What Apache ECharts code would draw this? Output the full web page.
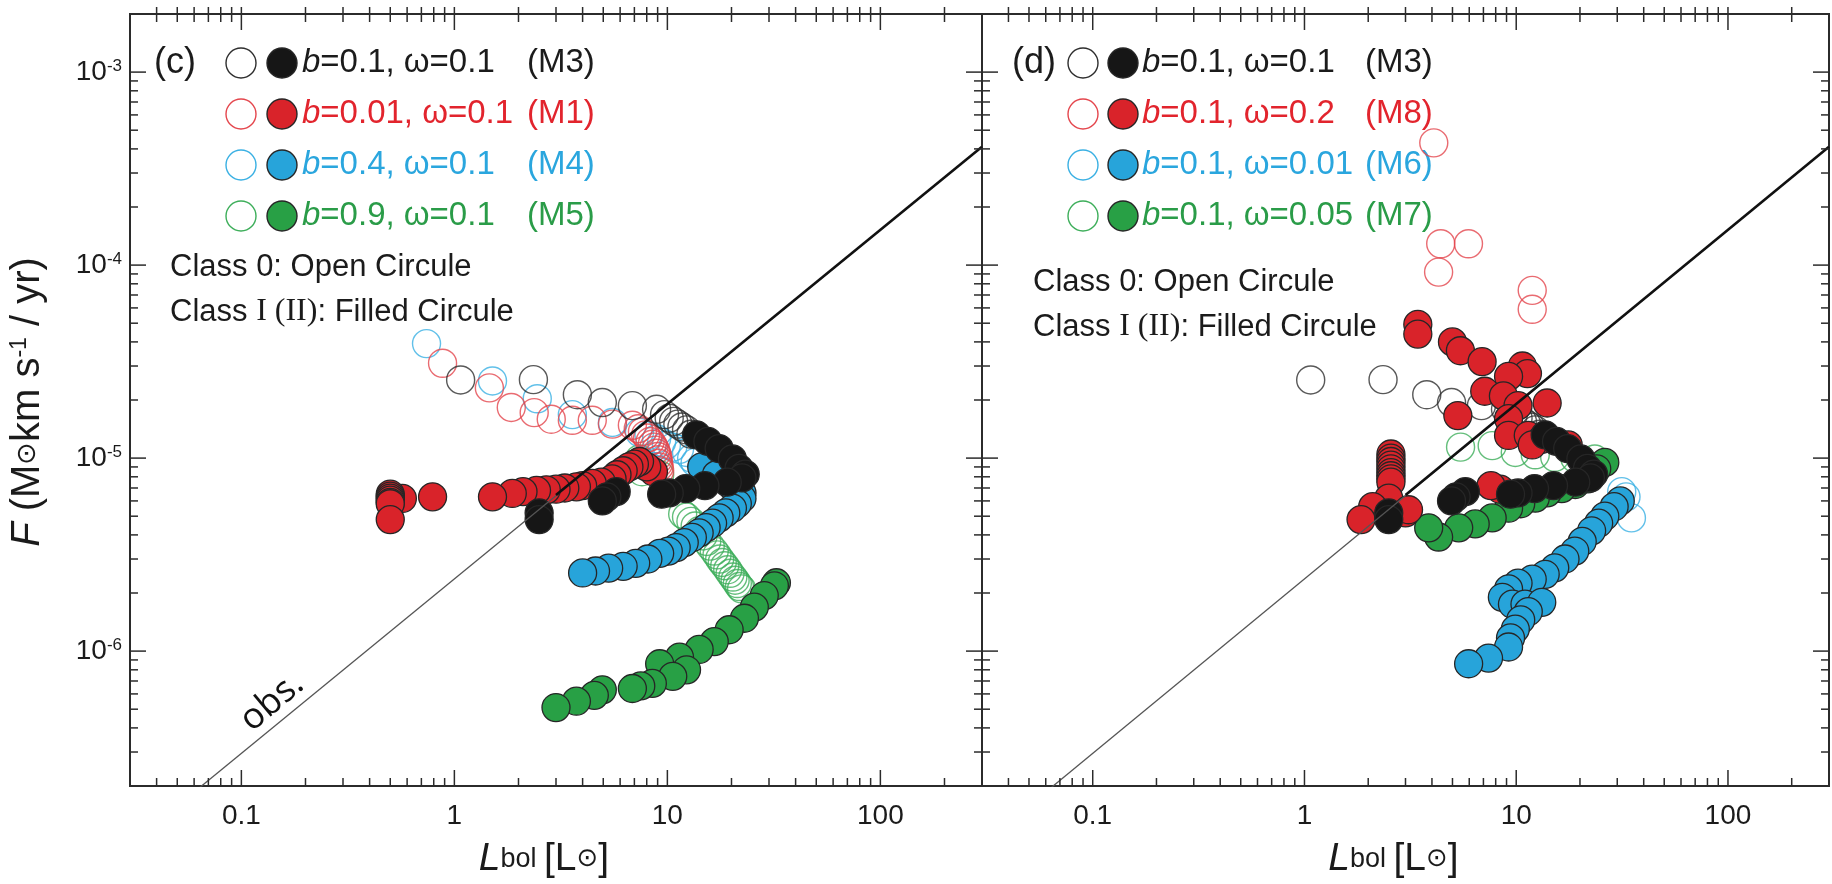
<!DOCTYPE html>
<html>
<head>
<meta charset="utf-8">
<script src="https://cdn.jsdelivr.net/npm/echarts@6/dist/echarts.min.js"></script>
<style>
html, body { margin: 0; padding: 0; background: #fff; }
#chart { width: 1832px; height: 884px; }
</style>
</head>
<body>
<div id="chart"></div>
<script>
// ---------- tick values (log axes) ----------
const majorL = [0.1, 1, 10, 100];
const minorL = [0.04, 0.05, 0.06, 0.07, 0.08, 0.09, 0.2, 0.3, 0.4, 0.5, 0.6, 0.7, 0.8, 0.9,
                2, 3, 4, 5, 6, 7, 8, 9, 20, 30, 40, 50, 60, 70, 80, 90, 200];
const majorF = [1e-6, 1e-5, 1e-4, 1e-3];
const minorF = [3e-7, 4e-7, 5e-7, 6e-7, 7e-7, 8e-7, 9e-7,
                2e-6, 3e-6, 4e-6, 5e-6, 6e-6, 7e-6, 8e-6, 9e-6,
                2e-5, 3e-5, 4e-5, 5e-5, 6e-5, 7e-5, 8e-5, 9e-5,
                2e-4, 3e-4, 4e-4, 5e-4, 6e-4, 7e-4, 8e-4, 9e-4];

// ---------- observed relation (two end points) ----------
const obsL = [0.06, 300];
const obsF = [1.86e-7, 4.1e-4];
const obsBoldL = [3, 300];
const obsBoldF = [6.44e-6, 4.1e-4];

// ---------- M3: b=0.1, w=0.1 (both panels) ----------
const m3OpenL = [1.07, 2.35, 3.78, 4.95, 6.85, 8.9, 9.7, 10.2, 10.7, 11.2, 11.7, 12.3, 12.9];
const m3OpenF = [2.54e-5, 2.55e-5, 2.13e-5, 1.94e-5, 1.87e-5, 1.79e-5, 1.68e-5, 1.61e-5, 1.55e-5, 1.50e-5, 1.45e-5, 1.40e-5, 1.33e-5];
const m3FillL = [13.7, 15.5, 17.5, 20.2, 21.7, 23.2, 22.4, 19.1, 15.0, 12.2, 10.2, 9.4, 5.75, 5.2, 4.95, 2.5, 2.5];
const m3FillF = [1.32e-5, 1.22e-5, 1.12e-5, 9.9e-6, 8.85e-6, 8.25e-6, 7.9e-6, 7.5e-6, 7.2e-6, 6.95e-6, 6.6e-6, 6.5e-6, 6.7e-6, 6.3e-6, 6.0e-6, 5.2e-6, 4.8e-6];

// ---------- panel (c) ----------
const m1OpenL = [0.88, 1.46, 1.85, 2.37, 2.85, 3.58, 4.44, 5.52, 6.85, 7.3, 7.64, 7.9, 8.07, 8.3, 8.5, 8.65, 8.8, 8.9, 9.0, 9.05, 9.1, 9.15, 9.2];
const m1OpenF = [3.1e-5, 2.31e-5, 1.83e-5, 1.72e-5, 1.59e-5, 1.57e-5, 1.57e-5, 1.5e-5, 1.48e-5, 1.42e-5, 1.37e-5, 1.32e-5, 1.27e-5, 1.22e-5, 1.18e-5, 1.14e-5, 1.1e-5, 1.06e-5, 1.02e-5, 9.8e-6, 9.4e-6, 9.0e-6, 8.6e-6];
const m1FillL = [8.6, 8.0, 7.4, 7.0, 6.6, 6.2, 5.8, 5.5, 4.9, 4.44, 4.0, 3.74, 3.3, 3.0, 2.7, 2.43, 2.1, 1.87, 1.51, 0.79, 0.57,
                 0.5, 0.5, 0.5, 0.5, 0.5, 0.5, 0.5];
const m1FillF = [8.5e-6, 9.0e-6, 9.6e-6, 9.3e-6, 9.0e-6, 8.6e-6, 8.2e-6, 7.8e-6, 7.5e-6, 7.4e-6, 7.2e-6, 7.1e-6, 7.0e-6, 6.9e-6, 6.85e-6, 6.8e-6, 6.7e-6, 6.56e-6, 6.3e-6, 6.3e-6, 6.18e-6,
                 6.5e-6, 6.35e-6, 6.2e-6, 6.05e-6, 5.9e-6, 5.8e-6, 4.8e-6];

const m4OpenL = [0.74, 1.51, 2.45, 3.58, 5.52, 7.4, 8.2, 8.9, 9.4, 9.9, 10.6, 11.4, 12.3, 13.0, 13.5];
const m4OpenF = [3.92e-5, 2.51e-5, 2.03e-5, 1.68e-5, 1.53e-5, 1.36e-5, 1.31e-5, 1.26e-5, 1.21e-5, 1.17e-5, 1.14e-5, 1.11e-5, 1.07e-5, 1.0e-5, 9.5e-6];
const m4FillL = [14.5, 17.0, 20.0, 22.4, 22.4, 21.3, 20.2, 18.8, 17.5, 16.3, 15.2, 14.1, 13.1, 12.0, 11.0, 10.1, 9.2, 8.1, 7.1, 6.2, 5.3, 4.6, 4.0];
const m4FillF = [9.0e-6, 8.2e-6, 7.2e-6, 6.6e-6, 6.18e-6, 5.8e-6, 5.5e-6, 5.2e-6, 4.9e-6, 4.6e-6, 4.36e-6, 4.1e-6, 3.88e-6, 3.65e-6, 3.44e-6, 3.3e-6, 3.21e-6, 3.0e-6, 2.85e-6, 2.75e-6, 2.69e-6, 2.6e-6, 2.54e-6];

const m5OpenL = [7.4, 7.6, 9.2, 11.8, 12.3, 12.9, 13.5, 14.1, 14.7, 15.3, 15.9, 16.6, 17.1, 17.6, 18.1, 18.6, 19.2, 19.7, 20.3, 20.8, 21.3, 21.8, 22.3];
const m5OpenF = [9.9e-6, 8.5e-6, 8.2e-6, 5.13e-6, 4.95e-6, 4.7e-6, 4.45e-6, 4.2e-6, 3.95e-6, 3.7e-6, 3.5e-6, 3.3e-6, 3.15e-6, 3.0e-6, 2.88e-6, 2.77e-6, 2.64e-6, 2.53e-6, 2.42e-6, 2.33e-6, 2.24e-6, 2.16e-6, 2.1e-6];
const m5FillL = [32.5, 31.8, 28.5, 25.6, 23.0, 19.5, 16.6, 14.1, 11.4, 9.2, 12.3, 10.6, 8.5, 7.5, 6.85, 4.95, 4.54, 3.74, 3.0];
const m5FillF = [2.26e-6, 2.18e-6, 1.94e-6, 1.69e-6, 1.48e-6, 1.29e-6, 1.12e-6, 1.02e-6, 9.3e-7, 8.6e-7, 8.0e-7, 7.4e-7, 6.8e-7, 6.6e-7, 6.4e-7, 6.3e-7, 5.9e-7, 5.5e-7, 5.1e-7];

// ---------- panel (d) ----------
const m8OpenL = [4.08, 4.4, 5.95, 4.3, 11.9, 11.9];
const m8OpenF = [4.3e-4, 1.29e-4, 1.29e-4, 9.2e-5, 7.4e-5, 5.9e-5];
const m8FillL = [3.43, 3.43, 5.0, 5.45, 6.9, 10.7, 11.3, 9.2, 7.1, 8.7, 14.0, 10.2, 5.3, 9.2, 9.2, 11.4, 13.2, 11.9, 17.6, 8.4, 7.6,
                 2.56, 2.56, 2.56, 2.56, 2.56, 2.56, 2.56, 2.56, 2.56, 2.5, 2.1, 3.0, 3.1, 1.85];
const m8FillF = [4.93e-5, 4.39e-5, 4.0e-5, 3.6e-5, 3.16e-5, 3.0e-5, 2.74e-5, 2.65e-5, 2.22e-5, 2.1e-5, 1.93e-5, 1.87e-5, 1.66e-5, 1.6e-5, 1.31e-5, 1.31e-5, 1.25e-5, 1.17e-5, 1.17e-5, 6.9e-6, 7.2e-6,
                 1.05e-5, 1.0e-5, 9.6e-6, 9.2e-6, 8.8e-6, 8.4e-6, 8.1e-6, 7.8e-6, 7.5e-6, 6.2e-6, 5.6e-6, 5.2e-6, 5.4e-6, 4.8e-6];

const m6OpenL = [35, 33, 31.5];
const m6OpenF = [4.9e-6, 6.3e-6, 6.7e-6];
const m6FillL = [31, 29, 26.2, 24.5, 22.7, 20.5, 18.9, 17, 15.2, 13.7, 11.9, 10.2, 9.2, 8.6, 9.6, 11.0, 13.2, 11.4, 10.5, 9.9, 9.4, 9.2, 7.4, 5.96];
const m6FillF = [6.0e-6, 5.6e-6, 5.0e-6, 4.6e-6, 4.2e-6, 3.7e-6, 3.3e-6, 3.0e-6, 2.7e-6, 2.5e-6, 2.36e-6, 2.25e-6, 2.1e-6, 1.9e-6, 1.75e-6, 1.75e-6, 1.79e-6, 1.6e-6, 1.45e-6, 1.3e-6, 1.17e-6, 1.05e-6, 9.2e-7, 8.6e-7];

const m7OpenL = [5.46, 7.7, 9.9, 12.3, 15.2, 18.9, 23.5];
const m7OpenF = [1.14e-5, 1.16e-5, 1.07e-5, 1.04e-5, 1.01e-5, 1.0e-5, 9.9e-6];
const m7FillL = [26.2, 24, 21.8, 19, 16.4, 14, 12.3, 10.5, 9.2, 7.7, 6.4, 5.35, 4.3, 3.86];
const m7FillF = [9.5e-6, 8.8e-6, 7.8e-6, 7.3e-6, 6.95e-6, 6.6e-6, 6.2e-6, 5.8e-6, 5.5e-6, 4.9e-6, 4.56e-6, 4.35e-6, 3.9e-6, 4.35e-6];

// ---------- legend text ----------
const legendC = [['b', '=0.1, ω=0.1', '(M3)'], ['b', '=0.01, ω=0.1', '(M1)'], ['b', '=0.4, ω=0.1', '(M4)'], ['b', '=0.9, ω=0.1', '(M5)']];
const legendD = [['b', '=0.1, ω=0.1', '(M3)'], ['b', '=0.1, ω=0.2', '(M8)'], ['b', '=0.1, ω=0.01', '(M6)'], ['b', '=0.1, ω=0.05', '(M7)']];

// ---------- styling ----------
const SANS = '"Liberation Sans", Arial, Helvetica, sans-serif';
const INK = '#1b1b1b';
const COL = {
  black: { fill: '#161616', open: '#2e2e2e', text: '#1b1b1b' },
  red:   { fill: '#d9232a', open: '#e4464d', text: '#e2242d' },
  blue:  { fill: '#27a4da', open: '#3ab0e3', text: '#2aa6de' },
  green: { fill: '#28a045', open: '#3dae5a', text: '#2a9c48' }
};
const ROWS = ['black', 'red', 'blue', 'green'];
const MARK = 28;

const pairs = (L, F) => L.map((v, i) => [v, F[i]]);
const isPow10 = v => Math.abs(Math.log10(v) - Math.round(Math.log10(v))) < 1e-6;

function openSeries(g, L, F, c) {
  return {
    type: 'scatter', xAxisIndex: g, yAxisIndex: g, data: pairs(L, F), symbol: 'circle', symbolSize: MARK,
    itemStyle: { color: 'rgba(255,255,255,0)', borderColor: COL[c].open, borderWidth: 1.4 },
    silent: true, z: 3
  };
}
function fillSeries(g, L, F, c) {
  return {
    type: 'scatter', xAxisIndex: g, yAxisIndex: g, data: pairs(L, F), symbol: 'circle', symbolSize: MARK,
    itemStyle: { color: COL[c].fill, borderColor: '#262626', borderWidth: 1.3, opacity: 1 },
    silent: true, z: 4
  };
}
function obsSeries(g) {
  return [
    { type: 'line', xAxisIndex: g, yAxisIndex: g, data: pairs(obsL, obsF), symbol: 'none',
      lineStyle: { color: '#555', width: 1.3 }, silent: true, z: 6, clip: true },
    { type: 'line', xAxisIndex: g, yAxisIndex: g, data: pairs(obsBoldL, obsBoldF), symbol: 'none',
      lineStyle: { color: '#111', width: 2.6 }, silent: true, z: 6, clip: true }
  ];
}

// tick marks on all four sides, placed through the axis scales
const tickData = [
  ...majorL.map(v => [v, 1e-5, 0, 1]),
  ...minorL.map(v => [v, 1e-5, 0, 0]),
  ...majorF.map(v => [1, v, 1, 1]),
  ...minorF.map(v => [1, v, 1, 0])
];
function tickSeries(g) {
  return {
    type: 'custom', xAxisIndex: g, yAxisIndex: g, data: tickData, silent: true, z: 8,
    encode: { x: 0, y: 1 },
    renderItem(params, api) {
      const cs = params.coordSys;
      const kind = api.value(2), major = api.value(3);
      const len = major ? 16 : 8;
      const style = { stroke: '#2b2b2b', lineWidth: 1.5 };
      if (kind === 0) {
        const px = api.coord([api.value(0), api.value(1)])[0];
        const top = cs.y, bot = cs.y + cs.height;
        return { type: 'group', children: [
          { type: 'line', shape: { x1: px, y1: bot, x2: px, y2: bot - len }, style },
          { type: 'line', shape: { x1: px, y1: top - 7, x2: px, y2: top + len }, style }
        ] };
      }
      const py = api.coord([api.value(0), api.value(1)])[1];
      const left = cs.x, right = cs.x + cs.width;
      return { type: 'group', children: [
        { type: 'line', shape: { x1: left, y1: py, x2: left + len, y2: py }, style },
        { type: 'line', shape: { x1: right - len, y1: py, x2: right, y2: py }, style }
      ] };
    }
  };
}

const xAxisTitle = {
  name: '{i|L}{sub|bol }{n|[L}{sun|⊙}{n|]}',
  nameLocation: 'middle', nameGap: 54,
  nameTextStyle: {
    padding: [0, 24, 0, 0],
    rich: {
      i: { fontSize: 39, fontStyle: 'italic', fontFamily: SANS, color: INK },
      sub: { fontSize: 27, fontFamily: SANS, color: INK },
      n: { fontSize: 39, fontFamily: SANS, color: INK },
      sun: { fontSize: 26, fontFamily: '"DejaVu Sans", sans-serif', color: INK }
    }
  }
};

function xAxis(g) {
  return Object.assign({
    gridIndex: g, type: 'log', logBase: 10, min: 0.03, max: 300,
    axisLine: { show: false }, axisTick: { show: false }, splitLine: { show: false }, minorTick: { show: false },
    axisLabel: {
      show: true, margin: 16, fontSize: 28, fontFamily: SANS, color: INK,
      formatter: v => isPow10(v) ? String(Number(Number(v).toPrecision(3))) : ''
    }
  }, xAxisTitle);
}
function yAxis(g) {
  const ax = {
    gridIndex: g, type: 'log', logBase: 10, min: 2e-7, max: 2e-3,
    axisLine: { show: false }, axisTick: { show: false }, splitLine: { show: false }, minorTick: { show: false },
    axisLabel: { show: false }
  };
  if (g === 0) {
    ax.axisLabel = {
      show: true, margin: 8, fontFamily: SANS, color: INK,
      formatter: v => isPow10(v) ? '{b|10}{e|' + Math.round(Math.log10(v)) + '}' : '',
      rich: {
        b: { fontSize: 28, fontFamily: SANS, color: INK },
        e: { fontSize: 17, fontFamily: SANS, color: INK, verticalAlign: 'top' }
      }
    };
    ax.name = '{i|F }{n|(M}{sun|⊙}{n|km s}{sup|-1}{n| / yr)}';
    ax.nameLocation = 'middle';
    ax.nameRotate = 90;
    ax.nameGap = 82;
    ax.nameTextStyle = {
      padding: [0, 4, 0, 0],
      rich: {
        i: { fontSize: 40, fontStyle: 'italic', fontFamily: SANS, color: INK },
        n: { fontSize: 40, fontFamily: SANS, color: INK },
        sun: { fontSize: 27, fontFamily: '"DejaVu Sans", sans-serif', color: INK },
        sup: { fontSize: 23, fontFamily: SANS, color: INK, verticalAlign: 'top' }
      }
    };
  }
  return ax;
}

// ---------- legend / annotation graphics ----------
function legendGraphics(tag, tagX, openX, fillX, textX, modelX, rows, noteX, noteY) {
  const els = [];
  const rowY = [63, 114, 165, 216];
  els.push({ type: 'text', x: tagX, y: rowY[0], style: {
    text: tag, fontSize: 36, fontFamily: SANS, fill: INK, textVerticalAlign: 'middle', verticalAlign: 'middle' } });
  rows.forEach((r, i) => {
    const c = COL[ROWS[i]];
    els.push({ type: 'circle', shape: { cx: openX, cy: rowY[i], r: 15 }, style: { fill: 'rgba(0,0,0,0)', stroke: c.open, lineWidth: 1.4 } });
    els.push({ type: 'circle', shape: { cx: fillX, cy: rowY[i], r: 15 }, style: { fill: c.fill, stroke: '#262626', lineWidth: 1.4 } });
    els.push({ type: 'text', x: textX, y: rowY[i], style: {
      text: '{i|' + r[0] + '}{n|' + r[1] + '}',
      rich: {
        i: { fontSize: 33, fontStyle: 'italic', fontFamily: SANS, fill: c.text },
        n: { fontSize: 33, fontFamily: SANS, fill: c.text }
      },
      textVerticalAlign: 'middle', verticalAlign: 'middle' } });
    els.push({ type: 'text', x: modelX, y: rowY[i], style: {
      text: r[2], fontSize: 33, fontFamily: SANS, fill: c.text, textVerticalAlign: 'middle', verticalAlign: 'middle' } });
  });
  els.push({ type: 'text', x: noteX, y: noteY, style: {
    text: 'Class 0: Open Circule', fontSize: 31, fontFamily: SANS, fill: INK, textVerticalAlign: 'middle', verticalAlign: 'middle' } });
  els.push({ type: 'text', x: noteX, y: noteY + 45, style: {
    text: '{n|Class }{s|I (II)}{n|: Filled Circule}',
    rich: {
      n: { fontSize: 31, fontFamily: SANS, fill: INK },
      s: { fontSize: 32, fontFamily: '"Liberation Serif", "Times New Roman", serif', fill: INK }
    },
    textVerticalAlign: 'middle', verticalAlign: 'middle' } });
  return els;
}

const graphics = [].concat(
  legendGraphics('(c)', 154, 241, 282, 302, 527, legendC, 170, 267),
  legendGraphics('(d)', 1012, 1083, 1123, 1142, 1365, legendD, 1033, 282),
  [{ type: 'text', x: 272, y: 702, rotation: 40 * Math.PI / 180, style: {
      text: 'obs.', fontSize: 36, fontFamily: '"Open Sans", sans-serif', fill: '#111',
      textAlign: 'center', align: 'center', textVerticalAlign: 'middle', verticalAlign: 'middle' } }]
);

const series = [].concat(
  obsSeries(0), obsSeries(1),
  [
    openSeries(0, m5OpenL, m5OpenF, 'green'),
    openSeries(0, m4OpenL, m4OpenF, 'blue'),
    openSeries(0, m1OpenL, m1OpenF, 'red'),
    openSeries(0, m3OpenL, m3OpenF, 'black'),
    fillSeries(0, m5FillL, m5FillF, 'green'),
    fillSeries(0, m4FillL, m4FillF, 'blue'),
    fillSeries(0, m1FillL, m1FillF, 'red'),
    fillSeries(0, m3FillL, m3FillF, 'black'),

    openSeries(1, m7OpenL, m7OpenF, 'green'),
    openSeries(1, m6OpenL, m6OpenF, 'blue'),
    openSeries(1, m8OpenL, m8OpenF, 'red'),
    openSeries(1, m3OpenL, m3OpenF, 'black'),
    fillSeries(1, m7FillL, m7FillF, 'green'),
    fillSeries(1, m6FillL, m6FillF, 'blue'),
    fillSeries(1, m8FillL, m8FillF, 'red'),
    fillSeries(1, m3FillL, m3FillF, 'black'),

    tickSeries(0), tickSeries(1)
  ]
);

const chart = echarts.init(document.getElementById('chart'));
chart.setOption({
  animation: false,
  backgroundColor: '#ffffff',
  grid: [
    { left: 130, top: 14, width: 852, height: 786, show: true, borderColor: '#2b2b2b', borderWidth: 2, backgroundColor: 'rgba(0,0,0,0)' },
    { left: 982, top: 14, width: 852, height: 786, show: true, borderColor: '#2b2b2b', borderWidth: 2, backgroundColor: 'rgba(0,0,0,0)' }
  ],
  xAxis: [xAxis(0), xAxis(1)],
  yAxis: [yAxis(0), yAxis(1)],
  graphic: graphics,
  series
});
</script>
</body>
</html>
